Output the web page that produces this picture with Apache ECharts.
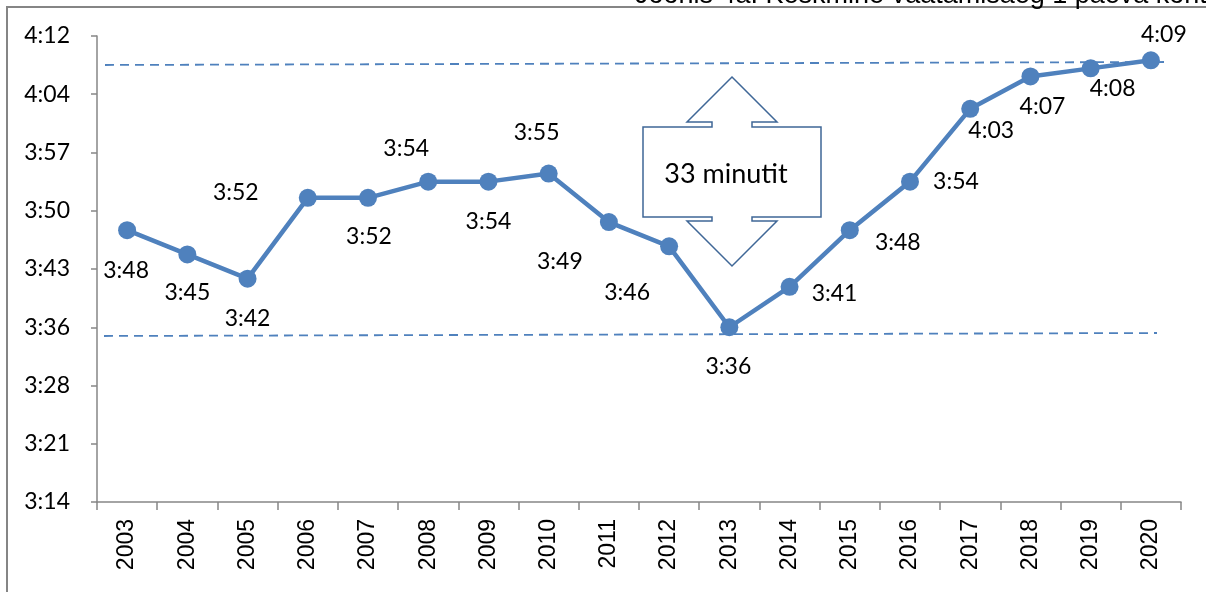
<!DOCTYPE html>
<html>
<head>
<meta charset="utf-8">
<script src="https://cdn.jsdelivr.net/npm/echarts@6/dist/echarts.min.js"></script>
<style>
html,body{margin:0;padding:0;background:#fff;}
#chart{width:1206px;height:592px;}
</style>
</head>
<body>
<div id="chart"></div>
<script>
// aastad
var years=['2003','2004','2005','2006','2007','2008','2009','2010','2011','2012','2013','2014','2015','2016','2017','2018','2019','2020'];
// vaatamisaeg minutites (3:48 = 228)
var minutes=[228,225,222,232,232,234,234,235,229,226,216,221,228,234,243,247,248,249];
// sildi nihe punkti suhtes
var labelOffsets=[[-1,40],[0,38],[0,40],[-72,-5],[1,39],[-22,-33],[0,40],[-12,-41],[-49,40],[-42,46],[-1,39],[45,7],[48,12],[46,0],[21,22],[12,30],[22,20],[13,-26]];
var titleText='Joonis 4a. Keskmine vaatamisaeg 1 päeva kohta';
var boxText='33 minutit';

//minutid -> h:mm
function toTime(v){
	var m=Math.floor(v+1e-6);
	var h=Math.floor(m/60);
	var mm=m%60;
	return h+':'+(mm<10?'0'+mm:mm);
}

var seriesData=[];
for(var i=0;i<minutes.length;i++){
	seriesData.push({
		value:minutes[i],
		label:{offset:labelOffsets[i]}
	});
}

var blue='#4F81BD';
var option={
	animation:false,
	grid:{left:97,right:25,top:36,bottom:90,containLabel:false},
	xAxis:{
		type:'category',
		data:years,
		boundaryGap:true,
		axisLine:{lineStyle:{color:'#868686',width:1.5}},
		axisTick:{show:true,length:8,interval:0,lineStyle:{color:'#868686',width:1.5}},
		axisLabel:{rotate:90,margin:17,interval:0,color:'#000',fontFamily:'Liberation Sans',fontSize:23}
	},
	yAxis:{
		type:'value',
		min:194.4,
		max:252,
		interval:7.2,
		axisLine:{show:true,lineStyle:{color:'#868686',width:1.5}},
		axisTick:{show:true,length:6,lineStyle:{color:'#868686',width:1.5}},
		splitLine:{show:false},
		axisLabel:{margin:27,color:'#000',fontFamily:'Lato',fontSize:23,formatter:toTime}
	},
	series:[
		{
			type:'line',
			data:seriesData,
			symbol:'circle',
			symbolSize:18,
			lineStyle:{color:blue,width:4.5},
			itemStyle:{color:blue},
			label:{
				show:true,
				position:'inside',
				color:'#000',
				fontFamily:'Lato',
				fontSize:23,
				formatter:function(p){return toTime(p.value);}
			},
			z:3
		}
	],
	graphic:[
		// raam
		{type:'polyline',shape:{points:[[7,592],[7,7],[1206,7]]},style:{stroke:'#858585',lineWidth:2,fill:null},silent:true},
		{type:'text',x:635,y:-4,style:{text:titleText,font:'27px "Liberation Sans"',fill:'#000',verticalAlign:'middle'},silent:true},
		// katkendjooned
		{type:'line',shape:{x1:105,y1:65,x2:1165,y2:62},style:{stroke:blue,lineWidth:1.8,lineDash:[9,6]},silent:true},
		{type:'line',shape:{x1:104,y1:336,x2:1157,y2:333},style:{stroke:blue,lineWidth:1.8,lineDash:[9,6]},silent:true},
		// noolega kast
		{type:'polygon',shape:{points:[[732,77],[777,122],[752,122],[752,127],[821,127],[821,217],[752,217],[752,221],[777,221],[732,266],[687,221],[712,221],[712,217],[643,217],[643,127],[712,127],[712,122],[687,122]]},
			style:{fill:'#fff',stroke:'#3F6797',lineWidth:1.5},z:10,silent:true},
		{type:'text',x:726,y:174,z:11,style:{text:boxText,font:'27px Lato',fill:'#000',align:'center',verticalAlign:'middle'},silent:true}
	]
};

var myChart=echarts.init(document.getElementById('chart'));
myChart.setOption(option);
</script>
</body>
</html>
